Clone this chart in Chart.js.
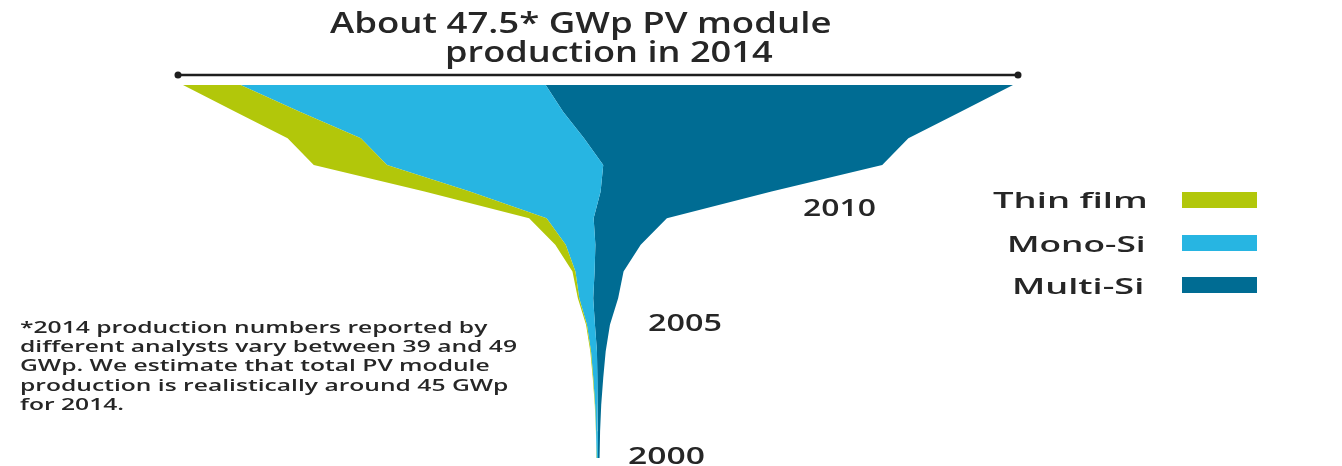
<!DOCTYPE html>
<html>
<head>
<meta charset="utf-8">
<script src="https://cdn.jsdelivr.net/npm/chart.js@4.4.1/dist/chart.umd.min.js"></script>
<style>
  html, body { margin: 0; padding: 0; background: #fff; overflow: hidden; }
  #wrap { position: relative; width: 1342px; height: 466px; }
  #box { position: absolute; left: 0; top: 0; width: 1342px; height: 466px; }
  .t { position: absolute; white-space: nowrap; font-family: "Open Sans", sans-serif; font-weight: 600; color: #262626; line-height: 1; transform-origin: 0 0; }
  .sw { position: absolute; left: 1182px; width: 75px; height: 16px; }
</style>
</head>
<body>
<div id="wrap">
  <div id="box"><canvas id="chart"></canvas></div>

  <div class="t" data-w="502" style="left:330px;top:7px;font-size:29px">About 47.5* GWp PV module</div>
  <div class="t" data-w="328" style="left:445px;top:36px;font-size:29px">production in 2014</div>

  <div class="t" data-w="73" style="left:803px;top:195px;font-size:24px">2010</div>
  <div class="t" data-w="74" style="left:648px;top:310px;font-size:24px">2005</div>
  <div class="t" data-w="77" style="left:628px;top:443px;font-size:24px">2000</div>

  <div class="t" data-w="154" style="left:993px;top:188px;font-size:22px">Thin film</div>
  <div class="t" data-w="138" style="left:1007px;top:232px;font-size:22px">Mono-Si</div>
  <div class="t" data-w="133" style="left:1012px;top:274px;font-size:22px">Multi-Si</div>
  <div class="sw" style="top:192px;background:#b2c70a"></div>
  <div class="sw" style="top:235px;background:#27b5e2"></div>
  <div class="sw" style="top:277px;background:#006c93"></div>

  <div class="t" data-w="497" style="left:20px;top:317px;font-size:16.5px;line-height:19.2px">*2014 production numbers reported by<br>different analysts vary between 39 and 49<br>GWp. We estimate that total PV module<br>production is realistically around 45 GWp<br>for 2014.</div>
</div>

<script>
// PV module production by technology, GWp
const years = [2000, 2001, 2002, 2003, 2004, 2005, 2006, 2007, 2008, 2009, 2010, 2011, 2012, 2013, 2014];
const thinFilm = [0.01, 0.01, 0.02, 0.03, 0.04, 0.05, 0.08, 0.17, 0.6, 1.0, 2.6, 4.2, 4.2, 3.7, 3.3];
const monoSi = [0.08, 0.10, 0.15, 0.23, 0.34, 0.46, 0.8, 1.1, 1.7, 2.7, 7.5, 12.4, 12.8, 15.1, 17.5];
const multiSi = [0.09, 0.13, 0.2, 0.34, 0.5, 0.86, 1.43, 1.66, 2.6, 4.2, 9.8, 16.0, 18.6, 22.8, 26.8];

const colors = { thin: '#b2c70a', mono: '#27b5e2', multi: '#006c93' };

// centred stack: left edge, thin/mono, mono/multi, right edge
const totals = years.map((_, i) => thinFilm[i] + monoSi[i] + multiSi[i]);
const leftEdge = totals.map(t => -t / 2);
const thinMono = leftEdge.map((v, i) => v + thinFilm[i]);
const monoMulti = thinMono.map((v, i) => v + monoSi[i]);
const rightEdge = monoMulti.map((v, i) => v + multiSi[i]);
const half = Math.max(...totals) / 2;

const pts = arr => years.map((y, i) => ({ x: arr[i], y: y }));

const line = (label, arr, color) => ({
  label: label,
  data: pts(arr),
  borderWidth: 0,
  pointRadius: 0,
  tension: 0,
  fill: color ? '-1' : false,
  backgroundColor: color || 'transparent',
  borderColor: 'transparent'
});

const topArrow = {
  id: 'topArrow',
  afterDatasetsDraw(chart) {
    const { ctx, scales } = chart;
    const x0 = scales.x.getPixelForValue(-half) - 5;
    const x1 = scales.x.getPixelForValue(half) + 5;
    const yy = scales.y.getPixelForValue(years[years.length - 1]) - 10;
    ctx.save();
    ctx.strokeStyle = '#1e1e1e';
    ctx.fillStyle = '#1e1e1e';
    ctx.lineWidth = 2.5;
    ctx.beginPath();
    ctx.moveTo(x0, yy);
    ctx.lineTo(x1, yy);
    ctx.stroke();
    [x0, x1].forEach(px => {
      ctx.beginPath();
      ctx.arc(px, yy, 3.5, 0, Math.PI * 2);
      ctx.fill();
    });
    ctx.restore();
  }
};

new Chart(document.getElementById('chart'), {
  type: 'line',
  data: {
    datasets: [
      line('edge', leftEdge, null),
      line('Thin film', thinMono, colors.thin),
      line('Mono-Si', monoMulti, colors.mono),
      line('Multi-Si', rightEdge, colors.multi)
    ]
  },
  options: {
    indexAxis: 'y',
    responsive: true,
    maintainAspectRatio: false,
    animation: false,
    layout: { padding: { left: 183, right: 329, top: 85, bottom: 8 } },
    scales: {
      x: { type: 'linear', min: -half, max: half, display: false },
      y: { type: 'linear', min: years[0], max: years[years.length - 1], display: false }
    },
    plugins: {
      legend: { display: false },
      tooltip: { enabled: false }
    }
  },
  plugins: [topArrow]
});

// stretch texts to the widths of the reference
document.fonts.ready.then(() => {
  document.querySelectorAll('.t').forEach(el => {
    const w = +el.dataset.w;
    el.style.transform = 'scaleX(' + (w / el.offsetWidth) + ')';
  });
});
</script>
</body>
</html>
